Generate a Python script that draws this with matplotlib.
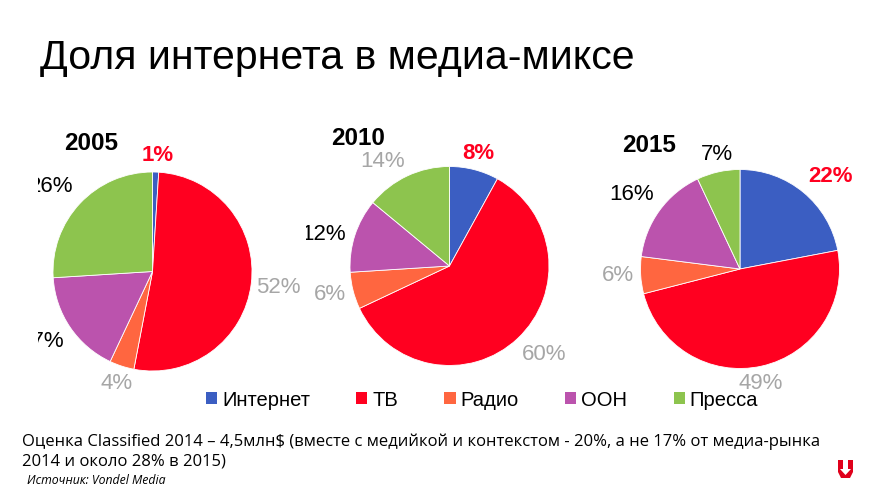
import matplotlib
matplotlib.use("Agg")
import matplotlib.pyplot as plt
from matplotlib.patches import Patch, Polygon
import numpy as np

# data
years = ["2005", "2010", "2015"]
categories = ["Интернет", "ТВ", "Радио", "ООН", "Пресса"]
shares_2005 = [1, 52, 4, 17, 26]
shares_2010 = [8, 60, 6, 12, 14]
shares_2015 = [22, 49, 6, 16, 7]
all_shares = [shares_2005, shares_2010, shares_2015]

colors = ["#3B5EC2", "#FF0020", "#FF6640", "#BB53AD", "#8DC44E"]
GREY = "#A6A6A6"
label_colors = [
    ["#FF0020", GREY, GREY, "black", "black"],
    ["#FF0020", GREY, GREY, "black", GREY],
    ["#FF0020", GREY, GREY, "black", "black"],
]
# label placement: distance from centre (in radii) and clockwise turn from wedge middle (deg)
label_dist = [
    [1.17, 1.27, 1.18, 1.32, 1.33],
    [1.17, 1.30, 1.235, 1.30, 1.25],
    [1.30, 1.17, 1.23, 1.32, 1.17],
]
label_turn = [
    [0.7, 0, 0, 2, -3],
    [0, -3.5, 1, -4, -7.5],
    [4.6, 2.5, 0.5, -1.6, 1.2],
]

W, H = 889, 496
fig = plt.figure(figsize=(W / 100, H / 100), dpi=100)
FONT = ["Liberation Sans", "DejaVu Sans"]

# pixel layout: axes box (left, right, top, bottom), pie centre, radius
boxes = [(38, 302, 118, 398), (306, 592, 118, 398), (592, 885, 118, 398)]
centres = [(152.5, 271.5), (449.5, 266), (740, 269)]
R = 99.5
year_offsets = [(-61, 128), (-91, 127), (-90.5, 124)]


def make_axes(box):
    l, r, t, b = box
    return fig.add_axes([l / W, 1 - b / H, (r - l) / W, (b - t) / H])


def fix_limits(ax, box, centre):
    l, r, t, b = box
    cx, cy = centre
    ax.set_xlim((l - cx) / R, (r - cx) / R)
    ax.set_ylim((cy - b) / R, (cy - t) / R)
    ax.set_axis_off()


for i, shares in enumerate(all_shares):
    ax = make_axes(boxes[i])
    wedges, _ = ax.pie(shares, colors=colors, startangle=90, counterclock=False,
                       radius=1, frame=True,
                       wedgeprops=dict(linewidth=0.6, edgecolor="white"))
    fix_limits(ax, boxes[i], centres[i])
    for j, w in enumerate(wedges):
        ang = np.deg2rad((w.theta1 + w.theta2) / 2 - label_turn[i][j])
        d = label_dist[i][j]
        ax.text(d * np.cos(ang), d * np.sin(ang), f"{shares[j]}%",
                ha="center", va="center", fontsize=16,
                color=label_colors[i][j],
                fontweight="bold" if j == 0 else "normal",
                family=FONT, clip_on=True, clip_box=ax.bbox)
    ox, oy = year_offsets[i]
    ax.text(ox / R, oy / R, years[i], ha="center", va="center",
            fontsize=17.5, fontweight="bold", family=FONT)

# title
fig.text(40 / W, 1 - 58 / H, "Доля интернета в медиа-миксе", fontsize=29.5,
         family=FONT, ha="left", va="center")

# legend
handles = [Patch(facecolor=c, edgecolor="none") for c in colors]
fig.legend(handles, categories, loc="center", bbox_to_anchor=(482 / W, 1 - 400 / H),
           ncol=5, frameon=False, handlelength=0.55, handleheight=0.55,
           handletextpad=0.25, columnspacing=2.3,
           prop=dict(family=FONT, size=14.5))

# notes
NOTE_FONT = ["Open Sans", "DejaVu Sans"]
fig.text(22 / W, 1 - 442 / H,
         "Оценка Classified 2014 – 4,5млн$ (вместе с медийкой и контекстом - 20%, а не 17% от медиа-рынка",
         fontsize=12, family=NOTE_FONT, ha="left", va="center")
fig.text(22 / W, 1 - 462 / H, "2014 и около 28% в 2015)",
         fontsize=12, family=NOTE_FONT, ha="left", va="center")
fig.text(27 / W, 1 - 481 / H, "Источник: Vondel Media", fontsize=8.8, style="italic",
         family=NOTE_FONT, ha="left", va="center")

# logo
lx, ly = 838, 460
u = [(0, 0), (5, 0), (5, 9), (10, 9), (10, 0), (15, 0), (15, 12), (12, 18),
     (3, 18), (0, 12)]
fig.patches.append(Polygon([((lx + x) / W, 1 - (ly + y) / H) for x, y in u],
                           closed=True, facecolor="#E0001B", edgecolor="none",
                           transform=fig.transFigure, figure=fig))
arrow = [(5, 4), (10, 4), (10, 9), (13, 9), (7.5, 15), (2, 9), (5, 9)]
fig.patches.append(Polygon([((lx + x) / W, 1 - (ly + y) / H) for x, y in arrow],
                           closed=True, facecolor="white", edgecolor="none",
                           transform=fig.transFigure, figure=fig))

fig.savefig("out.png", dpi=100)
